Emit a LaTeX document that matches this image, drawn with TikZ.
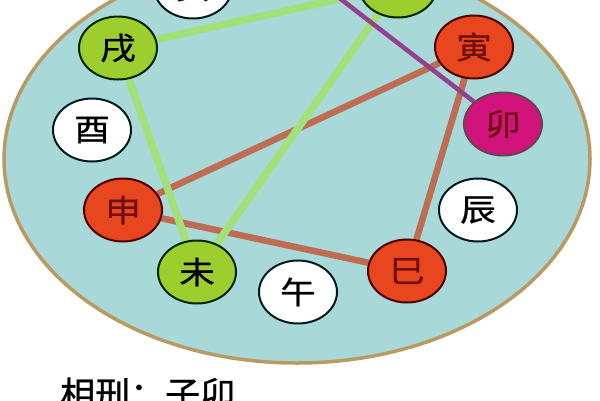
\documentclass[tikz,border=0pt]{standalone}
\usepackage{fontspec}
\setmainfont{Noto Sans CJK SC}
\newfontfamily\branchfont[FakeStretch=1.15,FakeBold=0.8]{Noto Sans CJK SC}
\newfontfamily\captionfont[FakeBold=1]{Noto Sans CJK SC}
\usetikzlibrary{shapes.geometric,backgrounds}
\definecolor{discfill}{HTML}{A8D8D8}
\definecolor{discring}{HTML}{B89A62}
\definecolor{gfill}{HTML}{9CCF2E}
\definecolor{rfill}{HTML}{E8461E}
\definecolor{mfill}{HTML}{D0147C}
\definecolor{gline}{HTML}{A4E07A}
\definecolor{bline}{HTML}{BE6C52}
\definecolor{pline}{HTML}{95408E}
\definecolor{redtext}{HTML}{6E1010}
\pgfdeclarelayer{disc}
\pgfsetlayers{disc,background,main}
\tikzset{
  branch/.style={ellipse, minimum width=78pt, minimum height=63pt, inner sep=0pt,
    line width=2pt, font=\branchfont\fontsize{31pt}{31pt}\selectfont},
  whitebr/.style={branch, draw=black!80!teal, fill=white, text=black},
  greenbr/.style={branch, draw=black!85!green, fill=gfill, text=black},
  redbr/.style={branch, draw=black!70!red, fill=rfill, text=redtext},
  magbr/.style={branch, draw=black!70!magenta, fill=mfill, text=redtext},
  greenlink/.style={draw=gline, line width=7.5pt},
  brownlink/.style={draw=bline, line width=6.5pt},
  purplelink/.style={draw=pline, line width=4.5pt},
}
\begin{document}
\begin{tikzpicture}[x=1pt,y=-1pt]
\useasboundingbox (0,0) rectangle (600,400);
\clip (0,0) rectangle (600,400);
\begin{pgfonlayer}{disc}
\fill[white] (0,0) rectangle (600,400);
\draw[fill=discfill, draw=discring, line width=3.5pt] (297,159) ellipse [x radius=293, y radius=204];
\end{pgfonlayer}

\node[whitebr] (hai) at (193,-13) {亥};
\node[greenbr] (chou) at (398,-14) {丑};
\node[greenbr] (xu) at (118,48) {戌};
\node[redbr] (yin) at (474,47) {寅};
\node[whitebr] (you) at (92,130) {酉};
\node[magbr] (mao) at (503,124) {卯};
\node[redbr] (shen) at (123,210) {申};
\node[whitebr] (chen) at (478,210) {辰};
\node[greenbr] (wei) at (197,272) {未};
\node[whitebr] (wu) at (298,292) {午};
\node[redbr] (si) at (407,271) {巳};
\coordinate (zi) at (290,-40);

\begin{pgfonlayer}{background}
\path[brownlink] (yin) -- (shen);
\path[brownlink] (shen) -- (si);
\path[brownlink] (si) -- (yin);
\path[greenlink] (xu) -- (chou);
\path[greenlink] (xu) -- (wei);
\path[greenlink] (chou) -- (wei);
\path[purplelink] (zi) -- (mao);
\end{pgfonlayer}

\node[anchor=base west, inner sep=0pt, font=\captionfont\fontsize{35pt}{35pt}\selectfont] (caption) at (60,407) {相刑：子卯};
\end{tikzpicture}
\end{document}
